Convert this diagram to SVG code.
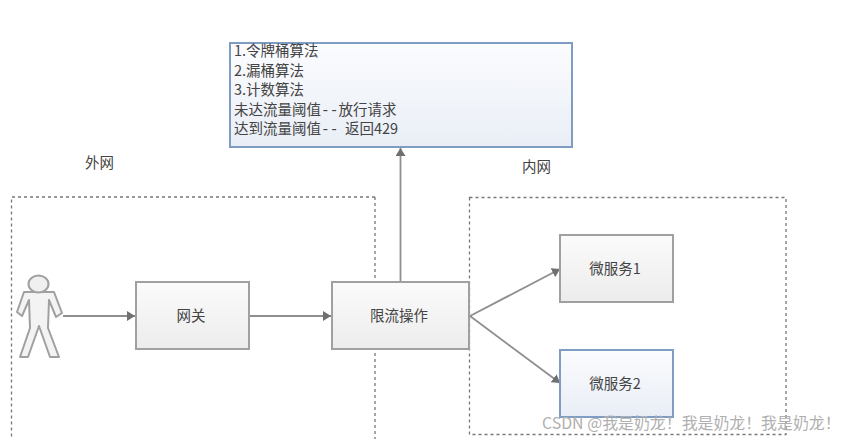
<svg xmlns="http://www.w3.org/2000/svg" width="845" height="439" viewBox="0 0 845 439">
<style>
text{font-family:"Noto Sans CJK SC","Liberation Sans",sans-serif;font-size:14.500px;fill:#444}
.c{text-anchor:middle}
.box{stroke:#a0a0a0;stroke-width:2;fill:url(#g)}
.blue{stroke:#7f9dc2;stroke-width:2;fill:url(#b)}
.zone{fill:none;stroke:#777;stroke-width:1.300;stroke-dasharray:3 3}
.conn{fill:none;stroke:#8f8f8f;stroke-width:1.800;marker-end:url(#a)}
.dash{font-family:"Liberation Mono",monospace}
</style>
<defs>
<linearGradient id="g" x1="0" y1="0" x2="0" y2="1"><stop offset="0" stop-color="#fbfbfb"/><stop offset="1" stop-color="#ececec"/></linearGradient>
<linearGradient id="b" x1="0" y1="0" x2="0" y2="1"><stop offset="0" stop-color="#fbfcfe"/><stop offset="1" stop-color="#e9eef6"/></linearGradient>
<marker id="a" markerUnits="userSpaceOnUse" markerWidth="9" markerHeight="10" refX="8" refY="5" orient="auto"><path d="M0 0L8 5L0 10Z" fill="#707070"/></marker>
</defs>
<rect width="845" height="439" fill="#fff"/>
<g id="zone-outer"><path class="zone" d="M375 197H11.500V439M375 197V439"/></g>
<g id="zone-inner"><rect class="zone" x="469.500" y="197.500" width="316.500" height="237"/></g>
<g id="connectors">
<path class="conn" d="M63 316H135"/>
<path class="conn" d="M250 316H331"/>
<path class="conn" d="M400.500 282V148"/>
<path class="conn" d="M470 316L560 269"/>
<path class="conn" d="M470 316L560 383"/>
</g>
<g id="label-outer"><text x="85" y="168">外网</text></g>
<g id="label-inner"><text x="522" y="172">内网</text></g>
<g id="algo">
<rect x="230" y="43" width="342" height="104" class="blue"/>
<text x="234" y="56">1.令牌桶算法</text>
<text x="234" y="76">2.漏桶算法</text>
<text x="234" y="95">3.计数算法</text>
<text x="234" y="115">未达流量阈值<tspan class="dash">--</tspan>放行请求</text>
<text x="234" y="134" xml:space="preserve">达到流量阈值<tspan class="dash">--</tspan>  返回429</text>
</g>
<g id="person">
<path d="M24 292L54 292L62 313L56 317L49 300L48 328L59 357L50 357L39 326L28 357L20 357L30 328L29 300L22 316L17 312Z" fill="#f3f3f3" stroke="#a0a0a0" stroke-width="2" stroke-linejoin="round"/>
<ellipse cx="38.500" cy="284" rx="10" ry="8.500" fill="#f0f0f0" stroke="#a0a0a0" stroke-width="2"/>
</g>
<g id="gateway"><rect x="136" y="282" width="113" height="67" class="box"/><text class="c" x="191" y="321">网关</text></g>
<g id="limit"><rect x="332" y="282" width="137" height="67" class="box"/><text class="c" x="399" y="321">限流操作</text></g>
<g id="svc1"><rect x="560" y="235" width="113" height="67" class="box"/><text class="c" x="615" y="274">微服务1</text></g>
<g id="svc2"><rect x="560" y="350" width="113" height="67" class="blue"/><text class="c" x="615" y="389">微服务2</text></g>
<g id="watermark"><text x="542" y="429" style="font-size:15.900px;fill:#b0b0b0">CSDN @我是奶龙！我是奶龙！我是奶龙！</text></g>
</svg>
